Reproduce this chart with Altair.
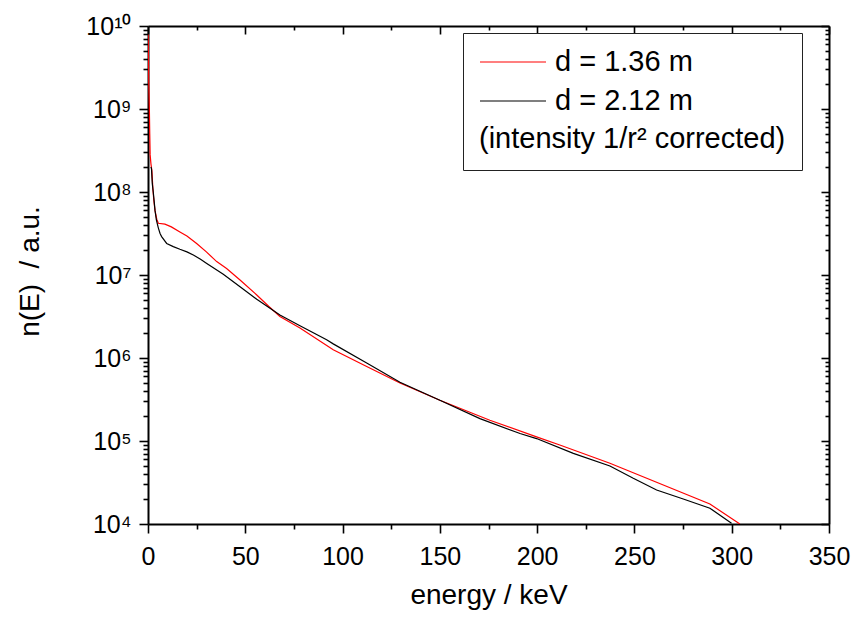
import altair as alt
import pandas as pd

# ---- data ----
series_names = ["d = 1.36 m", "d = 2.12 m"]
series_colors = ["#ff0000", "#000000"]
legend_note = "(intensity 1/r\u00b2 corrected)"

red_energy = [0.1, 0.4, 0.7, 0.9, 1.1, 1.5, 2.0, 2.5, 3.0, 3.6,
              4.5, 5.3, 8.7, 12, 16.4, 20, 25, 30, 35.3, 40.4,
              47.3, 55.9, 62, 67.8, 78.1, 95.2, 112.4, 129.5, 150, 175.7,
              199.7, 212, 237.4, 288.8, 304.2]
red_n = [7.9e9, 2.0e9, 1.0e9, 5.0e8, 2.8e8, 2.2e8, 1.8e8, 1.1e8, 7.9e7, 6.0e7,
         4.7e7, 4.2e7, 4.1e7, 3.8e7, 3.3e7, 2.95e7, 2.4e7, 1.9e7, 1.45e7, 1.2e7,
         8.7e6, 5.75e6, 4.2e6, 3.16e6, 2.3e6, 1.26e6, 7.9e5, 5.0e5, 3.1e5, 1.78e5,
         1.12e5, 8.9e4, 5.4e4, 1.74e4, 1.0e4]

black_energy = [1.5, 1.8, 2.2, 2.7, 3.2, 3.6, 4.3, 5.3, 6.2, 7.0,
                9.6, 13, 16.4, 20, 23.3, 27, 30.2, 38.7, 47.3, 55.9,
                67.8, 78.1, 91.8, 95.2, 112.4, 129.5, 150, 170.6, 191.2, 199.7,
                218.6, 237.4, 249.4, 261.4, 275.1, 288.8, 299.9]
black_n = [2.0e8, 1.9e8, 1.26e8, 1.0e8, 7.6e7, 6.0e7, 4.6e7, 3.7e7, 3.16e7, 2.9e7,
           2.4e7, 2.2e7, 2.04e7, 1.9e7, 1.74e7, 1.55e7, 1.38e7, 1.02e7, 7.2e6, 5.1e6,
           3.3e6, 2.45e6, 1.66e6, 1.48e6, 8.7e5, 5.1e5, 3.1e5, 1.86e5, 1.23e5, 1.07e5,
           7.1e4, 5.0e4, 3.55e4, 2.57e4, 2.0e4, 1.55e4, 1.02e4]

x_ticks = list(range(0, 351, 25))
y_ticks = [m * 10 ** k for k in range(4, 10) for m in range(1, 10)] + [10 ** 10]
sup_digits = ["\u2070", "\u00b9", "\u00b2", "\u00b3", "\u2074", "\u2075",
              "\u2076", "\u2077", "\u2078", "\u2079", "\u00b9\u2070"]

df = pd.concat([
    pd.DataFrame({"energy": red_energy, "n": red_n, "series": series_names[0]}),
    pd.DataFrame({"energy": black_energy, "n": black_n, "series": series_names[1]}),
], ignore_index=True)

W, H = 681, 498
FONT = "Liberation Sans"

xscale = alt.Scale(domain=[0, 350], nice=False, zero=False)
yscale = alt.Scale(type="log", domain=[1e4, 1e10], nice=False)

major_x = "datum.value % 50 == 0"
major_y = "abs(log(datum.value)/LN10 - round(log(datum.value)/LN10)) < 1e-6"
sup_arr = "[" + ",".join("'" + s + "'" for s in sup_digits) + "]"
y_label_expr = f"({major_y}) ? '10' + {sup_arr}[round(log(datum.value)/LN10)] : ''"
x_label_expr = f"({major_x}) ? datum.label : ''"

common = dict(domainColor="black", domainWidth=2, tickColor="black", tickWidth=1.6,
              labelFont=FONT, labelColor="black", titleFont=FONT, titleColor="black",
              grid=False, labelFlush=False, labelOverlap=False, labelBound=False)

x_bottom = alt.Axis(orient="bottom", values=x_ticks, labelExpr=x_label_expr,
                    tickSize={"condition": {"test": major_x, "value": 9}, "value": 5},
                    labelFontSize=25, labelPadding=11,
                    title="energy / keV", titleFontSize=28, titleFontWeight="normal",
                    titleX=W / 2, titleY=79, titleBaseline="alphabetic", titleAlign="center",
                    **common)
y_left = alt.Axis(orient="left", values=y_ticks, labelExpr=y_label_expr,
                  tickSize={"condition": {"test": major_y, "value": 9}, "value": 5},
                  labelFontSize=25, labelPadding=8,
                  title="n(E)\u00a0 / a.u.", titleFontSize=28, titleFontWeight="normal",
                  titleAngle=270, titleX=-118, titleY=245, titleBaseline="middle",
                  titleAlign="center", **common)
x_top = alt.Axis(orient="bottom", offset=-H, values=x_ticks, labels=False, title=None,
                 tickSize={"condition": {"test": major_x, "value": 8}, "value": 4},
                 **common)
y_right = alt.Axis(orient="left", offset=-W, values=y_ticks, labels=False, title=None,
                   tickSize={"condition": {"test": major_y, "value": 8}, "value": 4},
                   **common)

lines = alt.Chart(df).mark_line(strokeWidth=1.2, clip=True).encode(
    x=alt.X("energy:Q", scale=xscale, axis=x_bottom),
    y=alt.Y("n:Q", scale=yscale, axis=y_left),
    color=alt.Color(
        "series:N",
        scale=alt.Scale(domain=series_names, range=series_colors),
        legend=alt.Legend(
            orient="none", legendX=315, legendY=7, direction="vertical",
            title=legend_note, titleOrient="bottom", titleAnchor="start",
            titleFont=FONT, titleFontSize=29, titleFontWeight="normal", titleColor="black",
            titlePadding=9, titleLimit=0,
            labelFont=FONT, labelFontSize=29, labelColor="black", labelLimit=0, labelOffset=8,
            symbolType="stroke", symbolSize=4356, symbolStrokeWidth=1.2,
            clipHeight=26, rowPadding=10,
            strokeColor="#222222", fillColor="white", padding=16,
        ),
    ),
)

frame = alt.Chart(df).mark_line(opacity=0).encode(
    x=alt.X("energy:Q", scale=xscale, axis=x_top),
    y=alt.Y("n:Q", scale=yscale, axis=y_right),
)

chart = (
    alt.layer(lines, frame)
    .resolve_axis(x="independent", y="independent")
    .properties(
        width=W, height=H,
        padding={"left": 140, "top": 18, "right": 30, "bottom": 86},
        autosize=alt.AutoSizeParams(type="none"),
        background="white",
    )
    .configure_view(strokeWidth=0)
)

chart.save("out.html", embed_options={"renderer": "svg", "actions": False})
